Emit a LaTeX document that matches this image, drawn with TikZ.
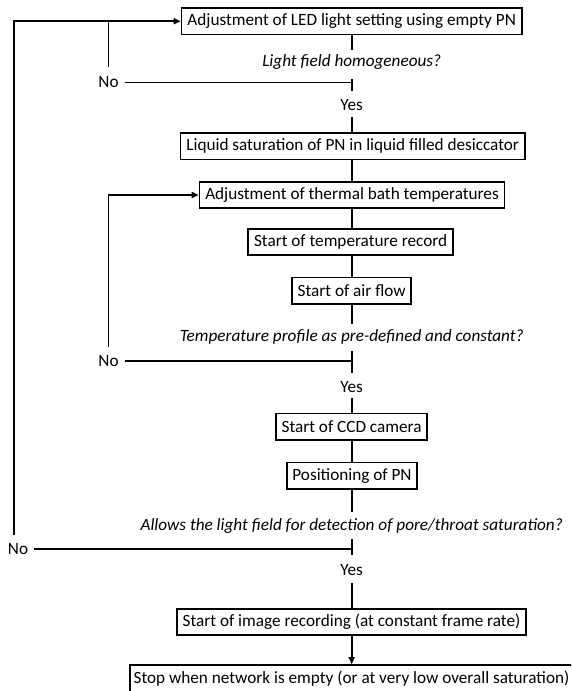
\documentclass[tikz,border=0pt]{standalone}
\usepackage{fontspec}
\setmainfont{Carlito}
\usetikzlibrary{arrows.meta}
\begin{document}
\begin{tikzpicture}[x=1pt,y=-1pt,
  font=\fontsize{17.2}{20}\selectfont,
  line width=1.6pt,
  box/.style={draw, inner sep=0pt, minimum height=26.5pt},
  qtext/.style={font=\fontsize{17.2}{20}\selectfont\itshape, inner sep=0pt},
  lbl/.style={inner sep=0pt},
  arr/.style={-{Triangle[length=7pt,width=6pt]}}]
\useasboundingbox (0,0) rectangle (571,691);
\clip (0,0) rectangle (571,691);

% boxes
\node[box, minimum width=340.5pt] (b1) at (351.7,21.2) {Adjustment of LED light setting using empty PN};
\node[box, minimum width=344.5pt] (b2) at (352.7,146.2) {Liquid saturation of PN in liquid filled desiccator};
\node[box, minimum width=305pt] (b3) at (352,195) {Adjustment of thermal bath temperatures};
\node[box, minimum width=204.8pt] (b4) at (350.6,242) {Start of temperature record};
\node[box, minimum width=119pt] (b5) at (351.7,290.8) {Start of air flow};
\node[box, minimum width=151.2pt] (b6) at (351.6,426.7) {Start of CCD camera};
\node[box, minimum width=130pt] (b7) at (352,475.9) {Positioning of PN};
\node[box, minimum width=349.5pt] (b8) at (351.5,622) {Start of image recording (at constant frame rate)};
\node[box, minimum width=443pt, minimum height=27pt] (b9) at (351.5,678.5) {Stop when network is empty (or at very low overall saturation)};

% questions
\node[qtext] (q1) at (351.7,62.3) {Light field homogeneous?};
\node[qtext] (q2) at (351.7,337.3) {Temperature profile as pre-defined and constant?};
\node[qtext] (q3) at (351.7,526.4) {Allows the light field for detection of pore/throat saturation?};

% labels
\node[lbl] (no1) at (108.5,82.3) {No};
\node[lbl] (no2) at (108.5,361) {No};
\node[lbl] (no3) at (18,549.2) {No};
\node[lbl] (yes1) at (351.7,105) {Yes};
\node[lbl] (yes2) at (351.7,386.7) {Yes};
\node[lbl] (yes3) at (351.7,570) {Yes};

% coordinates on the axis
\coordinate (a1) at (351.7,50);
\coordinate (t1a) at (351.7,79);
\coordinate (t1) at (351.7,82.3);
\coordinate (t1b) at (351.7,91);
\coordinate (y1b) at (351.7,117.3);

\coordinate (a2) at (351.7,324);
\coordinate (t2a) at (351.7,350.7);
\coordinate (t2) at (351.7,361);
\coordinate (t2b) at (351.7,372.7);
\coordinate (y2b) at (351.7,398.3);

\coordinate (a3) at (351.7,512.2);
\coordinate (t3a) at (351.7,538.6);
\coordinate (t3) at (351.7,549.2);
\coordinate (t3b) at (351.7,555.1);
\coordinate (y3b) at (351.7,582.5);

% loop corners
\coordinate (c1) at (108.3,66.7);
\coordinate (c2) at (108.3,346.7);
\coordinate (c3) at (13.9,535.3);

% main axis
\draw (b1.south -| a1) -- (a1);
\draw (t1a) -- (t1b);
\draw ([xshift=5.5pt]no1.east) -- (t1);
\draw (y1b) -- (y1b |- b2.north);
\draw (b2.south -| a1) -- (b3.north -| a1);
\draw (b3.south -| a1) -- (b4.north -| a1);
\draw (b4.south -| a1) -- (b5.north -| a1);
\draw (b5.south -| a2) -- (a2);
\draw (t2a) -- (t2b);
\draw ([xshift=5.5pt]no2.east) -- (t2);
\draw (y2b) -- (y2b |- b6.north);
\draw (b6.south -| a3) -- (b7.north -| a3);
\draw (b7.south -| a3) -- (a3);
\draw (t3a) -- (t3b);
\draw ([xshift=5.5pt]no3.east) -- (t3);
\draw (y3b) -- (y3b |- b8.north);
\draw[arr] (b8.south -| y3b) -- (b9.north -| y3b);

% feedback loops
\draw[arr] (c3) |- (b1.west);
\draw (c1) -- (c1 |- b1.west);
\draw[arr] (c2) |- (b3.west);
\end{tikzpicture}
\end{document}
